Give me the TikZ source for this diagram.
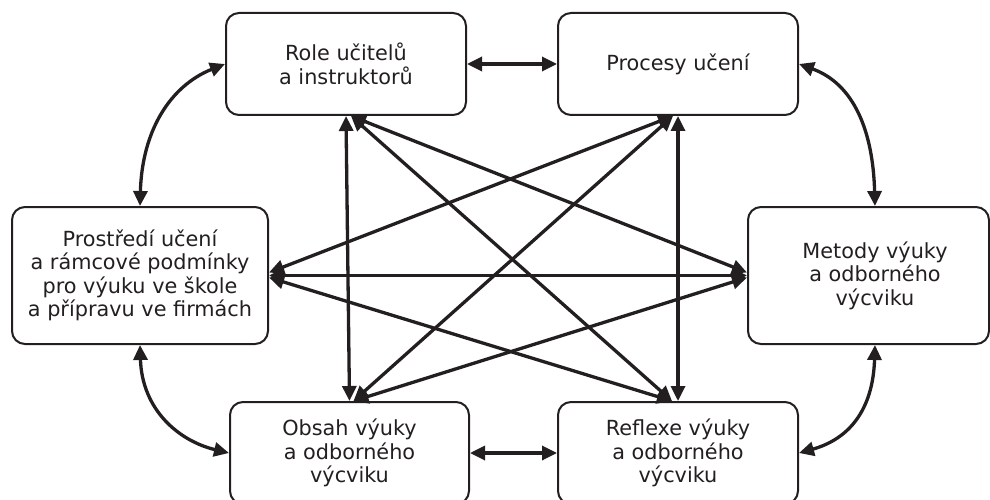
\documentclass[tikz,border=0pt]{standalone}
\usepackage{fontspec}
\setmainfont{DejaVu Sans}
\usetikzlibrary{arrows.meta,calc}
\definecolor{ink}{HTML}{231F20}
\begin{document}
\begin{tikzpicture}[x=1pt,y=-1pt,
  box/.style={draw=ink, line width=2pt, rounded corners=13pt, align=center,
    font=\fontsize{20.8}{23.5}\selectfont, text=ink, inner sep=0pt},
  link/.style={draw=ink, line width=3.3pt,
    {Triangle[length=15pt,width=14pt]}-{Triangle[length=15pt,width=14pt]}},
]
\useasboundingbox (0,0) rectangle (990,500);

% the six topics
\node[box, minimum width=240pt, minimum height=102pt] (role) at (346,64)
  {Role učitelů\\a instruktorů};
\node[box, minimum width=240pt, minimum height=102pt] (proc) at (678,64)
  {Procesy učení};
\node[box, minimum width=256pt, minimum height=137pt] (pros) at (140,275.5)
  {Prostředí učení\\a rámcové podmínky\\pro výuku ve škole\\a přípravu ve firmách};
\node[box, minimum width=241pt, minimum height=137pt] (meto) at (868.5,275.5)
  {\hspace*{13pt}Metody výuky\\\hspace*{13pt}a odborného\\\hspace*{13pt}výcviku};
\node[box, minimum width=239pt, minimum height=102pt] (obsa) at (349.5,453)
  {Obsah výuky\\a odborného\\výcviku};
\node[box, minimum width=240pt, minimum height=102pt] (refl) at (678,453)
  {Reflexe výuky\\a odborného\\výcviku};

% straight neighbours
\draw[link] (role.east) -- (proc.west);
\draw[link] (obsa.east) -- (refl.west);

% curved links around the outside
\draw[link] (role.west) .. controls +(-55,22) and +(2,-75) .. (pros.north);
\draw[link] (proc.east) .. controls +(55,20) and +(-2,-75) .. ($(meto.north)+(6.5,0)$);
\draw[link] (pros.south) .. controls +(2,65) and +(-50,-12) .. (obsa.west);
\draw[link] ($(meto.south)+(6.5,0)$) .. controls +(-2,65) and +(50,-14) .. (refl.east);

% links across the middle
\draw[link] (role.south) -- (obsa.north);
\draw[link] (proc.south) -- (refl.north);
\draw[link] ($(role.south)+(5,0)$) -- ($(refl.north)+(-6,0)$);
\draw[link] ($(proc.south)+(-5,0)$) -- ($(obsa.north)+(4,0)$);
\draw[link] ($(role.south)+(5,0)$) -- ($(meto.west)+(0,-3)$);
\draw[link] ($(proc.south)+(-5,0)$) -- ($(pros.east)+(0,-3)$);
\draw[link] ($(obsa.north)+(4,0)$) -- ($(meto.west)+(0,2)$);
\draw[link] ($(refl.north)+(-6,0)$) -- ($(pros.east)+(0,2)$);
\draw[link] (pros.east) -- (meto.west);
\end{tikzpicture}
\end{document}
